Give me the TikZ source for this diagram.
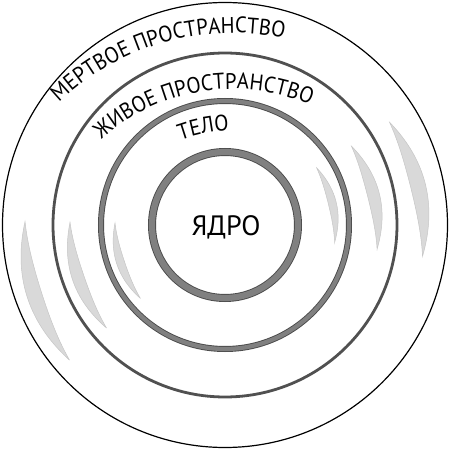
\documentclass[tikz,border=0pt]{standalone}
\usepackage{fontspec}
\setmainfont{PT Sans}
\newfontfamily\arcfam{PT Sans}[FakeStretch=0.92]
\usetikzlibrary{decorations.text}
\definecolor{ringedge}{HTML}{4A4A4A}
\definecolor{ringfill}{HTML}{808080}
\definecolor{midring}{HTML}{505050}
\definecolor{crescfill}{HTML}{D9D9D9}
\definecolor{crescedge}{HTML}{C6C6C6}
\tikzset{
  cres/.style={fill=crescfill, draw=crescedge, line width=0.5},
  arctext/.style={decorate, decoration={text along path, text align=center, text={|\arcfam\fontsize{22.5}{22.5}\selectfont|#1}}}
}
\newcommand{\crescent}[5]{%
  \filldraw[cres] plot[domain=0:1,samples=40,variable=\t] ({#1+(#2-#1)*\t}:{#3+(#4-#3)*\t+#5/2*sin(180*\t)})
   -- plot[domain=1:0,samples=40,variable=\t] ({#1+(#2-#1)*\t}:{#3+(#4-#3)*\t-#5/2*sin(180*\t)}) -- cycle;}
\begin{document}
\begin{tikzpicture}[x=1pt,y=1pt]
\useasboundingbox (-225,-225) rectangle (225,225);
\fill[white] (-225,-225) rectangle (225,225);
% crescents right
\crescent{32}{-9}{194}{200}{15}
\crescent{32}{-9}{149}{154}{12}
\crescent{32}{-9}{108}{111}{8}
% crescents left
\crescent{179}{221}{200}{206}{15}
\crescent{179}{221}{155}{157}{12}
\crescent{179}{221}{110}{112}{8}
% rings
\coordinate (c) at (0,0);
\draw[black, line width=1.2] (c) circle[radius=222.5];
\draw[midring, line width=2.8] (c) circle[radius=172];
\draw[ringedge, line width=6] (c) circle[radius=124];
\draw[ringfill, line width=4.2] (c) circle[radius=124];
\draw[ringedge, line width=8] (c) circle[radius=73];
\draw[ringfill, line width=6.2] (c) circle[radius=73];
% texts
\coordinate (tc) at (8,-60);
\path[arctext={МЕРТВОЕ ПРОСТРАНСТВО}] (tc) ++(146:252) arc[start angle=146, end angle=66, radius=252];
\path[arctext={ЖИВОЕ ПРОСТРАНСТВО}] (tc) ++(144.5:196) arc[start angle=144.5, end angle=54.5, radius=196];
\path[arctext={ТЕЛО}] (tc) ++(130.7:154) arc[start angle=130.7, end angle=70.7, radius=154];
\node[anchor=base, font=\fontsize{28}{28}\selectfont, inner sep=0] (core) at (1,-10) {ЯДРО};
\end{tikzpicture}
\end{document}
